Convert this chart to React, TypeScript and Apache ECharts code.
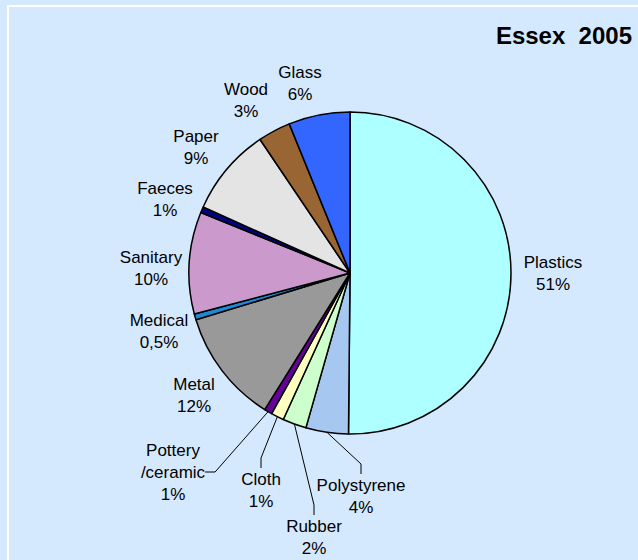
import React, { useEffect, useRef } from 'react';
import * as echarts from 'echarts';

// ---- data ----
const categories = [
  'Plastics',
  'Polystyrene',
  'Rubber',
  'Cloth',
  'Pottery\n/ceramic',
  'Metal',
  'Medical',
  'Sanitary',
  'Faeces',
  'Paper',
  'Wood',
  'Glass',
];
const values = [50.5, 4.3, 2.4, 1.3, 0.8, 11.5, 0.6, 10.3, 0.6, 8.9, 3.3, 6.2];
const pctLabels = ['51%', '4%', '2%', '1%', '1%', '12%', '0,5%', '10%', '1%', '9%', '3%', '6%'];
const title = 'Essex  2005';

// ---- styling / layout (not data) ----
const sliceColors = [
  '#AEFFFF',
  '#A6C8F0',
  '#CCFFCC',
  '#FFFFC0',
  '#660099',
  '#999999',
  '#1A8AD4',
  '#CC99CC',
  '#000080',
  '#E4E4E4',
  '#996633',
  '#3366FF',
];
const leaderLine = [false, true, true, true, true, false, false, false, false, false, false, false];
const labelAnchors: [number, number][] = [
  [553, 273],
  [361, 496],
  [314, 537],
  [261, 490],
  [173, 472],
  [194, 395.5],
  [159, 331.5],
  [151, 268],
  [165, 199],
  [196, 147],
  [246, 100],
  [300, 83],
];

const FONT = '"Liberation Sans", Arial, Helvetica, sans-serif';

export default function App() {
  const ref = useRef<HTMLDivElement>(null);

  useEffect(() => {
    if (!ref.current) return;
    const chart = echarts.init(ref.current, undefined, { renderer: 'svg' });
    const data = categories.map((name, i) => ({
      name,
      value: values[i],
      itemStyle: { color: sliceColors[i] },
      labelLine: { show: leaderLine[i] },
    }));
    chart.setOption({
      animation: false,
      backgroundColor: '#D5E9FE',
      graphic: [
        {
          type: 'rect',
          shape: { x: 8, y: 6, width: 720, height: 640 },
          style: { fill: 'none', stroke: '#FFFFFF', lineWidth: 2 },
          silent: true,
        },
        {
          type: 'text',
          x: 632,
          y: 35,
          style: {
            text: title,
            fontFamily: FONT,
            fontSize: 24,
            fontWeight: 'bold',
            fill: '#000000',
            align: 'right',
            verticalAlign: 'middle',
          },
        },
      ],
      series: [
        {
          type: 'pie',
          center: [350, 273],
          radius: 161,
          startAngle: 90,
          clockwise: true,
          avoidLabelOverlap: false,
          data,
          itemStyle: { borderColor: '#000000', borderWidth: 1.5 },
          emphasis: { disabled: true },
          label: {
            show: true,
            position: 'outside',
            fontFamily: FONT,
            fontSize: 17,
            lineHeight: 22,
            color: '#000000',
            formatter: (p: any) => `${p.name}\n${pctLabels[p.dataIndex]}`,
          },
          labelLine: {
            show: false,
            length: 12,
            length2: 10,
            smooth: false,
            lineStyle: { color: '#000000', width: 1 },
          },
          labelLayout: (params: any) => {
            const a = labelAnchors[params.dataIndex];
            return {
              x: a[0],
              y: a[1],
              align: 'center',
              verticalAlign: 'middle',
              hideOverlap: false,
            };
          },
        },
      ],
    });
    return () => chart.dispose();
  }, []);

  return (
    <div
      ref={ref}
      style={{ position: 'absolute', left: 0, top: 0, width: 638, height: 560 }}
    />
  );
}
